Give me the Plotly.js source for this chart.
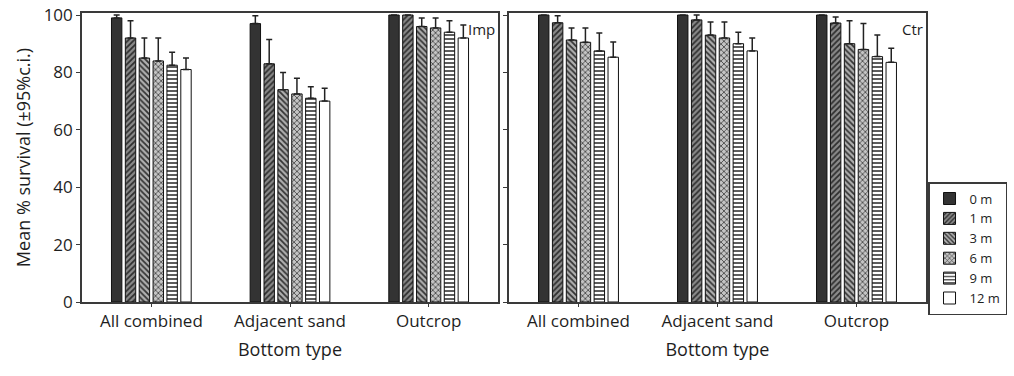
<!DOCTYPE html>
<html>
<head>
<meta charset="utf-8">
<script src="https://cdn.plot.ly/plotly-3.0.1.min.js"></script>
<style>
  html, body { margin: 0; padding: 0; background: #fff; }
  #chart { width: 1014px; height: 376px; }
</style>
</head>
<body>
<div id="chart"></div>
<script>
// Bottom types and tether depths
const categories = ['All combined', 'Adjacent sand', 'Outcrop'];
const depths = ['0 m', '1 m', '3 m', '6 m', '9 m', '12 m'];

// Imp: mean % survival per depth (order follows categories)
const imp0 = [99, 97, 100];
const imp1 = [92, 83, 100];
const imp3 = [85, 74, 96];
const imp6 = [84, 72.5, 95.5];
const imp9 = [82.5, 71, 94];
const imp12 = [81, 70, 92];
// Imp: upper 95% confidence limit
const impUp0 = [100, 99.7, 100];
const impUp1 = [98, 91.5, 100];
const impUp3 = [92, 80, 99];
const impUp6 = [92, 78, 99];
const impUp9 = [87, 75, 98];
const impUp12 = [85, 74.5, 96.5];

// Ctr: mean % survival per depth
const ctr0 = [100, 100, 100];
const ctr1 = [97.3, 98.3, 97.2];
const ctr3 = [91.3, 93, 90];
const ctr6 = [90.5, 92, 88];
const ctr9 = [87.5, 90, 85.5];
const ctr12 = [85.3, 87.5, 83.5];
// Ctr: upper 95% confidence limit
const ctrUp0 = [100, 100, 100];
const ctrUp1 = [99.7, 100, 99.3];
const ctrUp3 = [95.5, 97.6, 98];
const ctrUp6 = [95.5, 97.6, 97];
const ctrUp9 = [93.7, 94, 93];
const ctrUp12 = [90.6, 92, 88.4];

const impMeans = [imp0, imp1, imp3, imp6, imp9, imp12];
const impUpper = [impUp0, impUp1, impUp3, impUp6, impUp9, impUp12];
const ctrMeans = [ctr0, ctr1, ctr3, ctr6, ctr9, ctr12];
const ctrUpper = [ctrUp0, ctrUp1, ctrUp3, ctrUp6, ctrUp9, ctrUp12];

// Fill style for each depth
const fills = [
  { color: '#333333', pattern: { shape: '' } },
  { color: '#8a8a8a', pattern: { shape: '/', fgcolor: '#2e2e2e', bgcolor: '#8a8a8a', size: 4, solidity: 0.45 } },
  { color: '#a8a8a8', pattern: { shape: '\\', fgcolor: '#333', bgcolor: '#b0b0b0', size: 4, solidity: 0.45 } },
  { color: '#b8b8b8', pattern: { shape: 'x', fgcolor: '#3a3a3a', bgcolor: '#c4c4c4', size: 4, solidity: 0.35 } },
  { color: '#ffffff', pattern: { shape: '-', fgcolor: '#333', bgcolor: '#ffffff', size: 4, solidity: 0.4 } },
  { color: '#ffffff', pattern: { shape: '' } }
];

function makeTrace(i, means, upper, xa, ya, showLegend) {
  return {
    type: 'bar',
    name: depths[i],
    x: categories,
    y: means[i],
    xaxis: xa,
    yaxis: ya,
    legendgroup: depths[i],
    showlegend: showLegend,
    marker: {
      color: fills[i].color,
      pattern: fills[i].pattern,
      line: { color: '#111', width: 1 }
    },
    error_y: {
      type: 'data',
      symmetric: false,
      array: upper[i].map((u, k) => Math.max(0, u - means[i][k])),
      arrayminus: means[i].map(() => 0),
      color: '#222',
      thickness: 1.5,
      width: 3
    },
    hoverinfo: 'skip'
  };
}

const traces = [];
for (let i = 0; i < depths.length; i++) traces.push(makeTrace(i, impMeans, impUpper, 'x', 'y', true));
for (let i = 0; i < depths.length; i++) traces.push(makeTrace(i, ctrMeans, ctrUpper, 'x2', 'y2', false));

const font = 'Open Sans, Noto Sans, sans-serif';
const ink = '#1e1e1e';
const axisLine = { showline: true, linecolor: '#3a3a3a', linewidth: 1.8, mirror: true, showgrid: false, zeroline: false };

const layout = {
  width: 1014,
  height: 376,
  margin: { l: 82, r: 88, t: 13, b: 74, autoexpand: false },
  paper_bgcolor: '#fff',
  plot_bgcolor: '#fff',
  font: { family: font, size: 17, color: ink },
  barmode: 'group',
  bargap: 0.4,
  bargroupgap: 0.25,
  showlegend: true,
  legend: {
    x: 1.0024, xanchor: 'left',
    y: 0.415, yanchor: 'top',
    bordercolor: '#3a3a3a', borderwidth: 1.5,
    bgcolor: '#fff',
    font: { family: font, size: 13, color: ink },
    tracegroupgap: 0,
    itemwidth: 30
  },
  xaxis: Object.assign({}, axisLine, {
    domain: [0, 0.4929], anchor: 'y',
    ticks: 'outside', ticklen: 3, tickcolor: '#3a3a3a',
    tickfont: { size: 17 },
    title: { text: 'Bottom type', font: { size: 18 }, standoff: 12 }
  }),
  yaxis: Object.assign({}, axisLine, {
    range: [0, 100.7], anchor: 'x',
    tickvals: [0, 20, 40, 60, 80, 100],
    ticks: 'outside', ticklen: 4, tickcolor: '#3a3a3a',
    tickfont: { size: 17 },
    title: { text: 'Mean % survival (±95%c.i.)', font: { size: 18 }, standoff: 8 }
  }),
  xaxis2: Object.assign({}, axisLine, {
    domain: [0.5059, 1], anchor: 'y2',
    ticks: 'outside', ticklen: 3, tickcolor: '#3a3a3a',
    tickfont: { size: 17 },
    title: { text: 'Bottom type', font: { size: 18 }, standoff: 12 }
  }),
  yaxis2: Object.assign({}, axisLine, {
    range: [0, 100.7], anchor: 'x2',
    tickvals: [0, 20, 40, 60, 80, 100],
    showticklabels: false,
    ticks: 'outside', ticklen: 4, tickcolor: '#3a3a3a'
  }),
  annotations: [
    { text: 'Imp', xref: 'x domain', yref: 'y domain', x: 0.998, y: 0.985, xanchor: 'right', yanchor: 'top', showarrow: false, font: { size: 15, color: ink } },
    { text: 'Ctr', xref: 'x2 domain', yref: 'y2 domain', x: 0.998, y: 0.985, xanchor: 'right', yanchor: 'top', showarrow: false, font: { size: 15, color: ink } }
  ]
};

Plotly.newPlot('chart', traces, layout, { staticPlot: true, displayModeBar: false });
</script>
</body>
</html>
